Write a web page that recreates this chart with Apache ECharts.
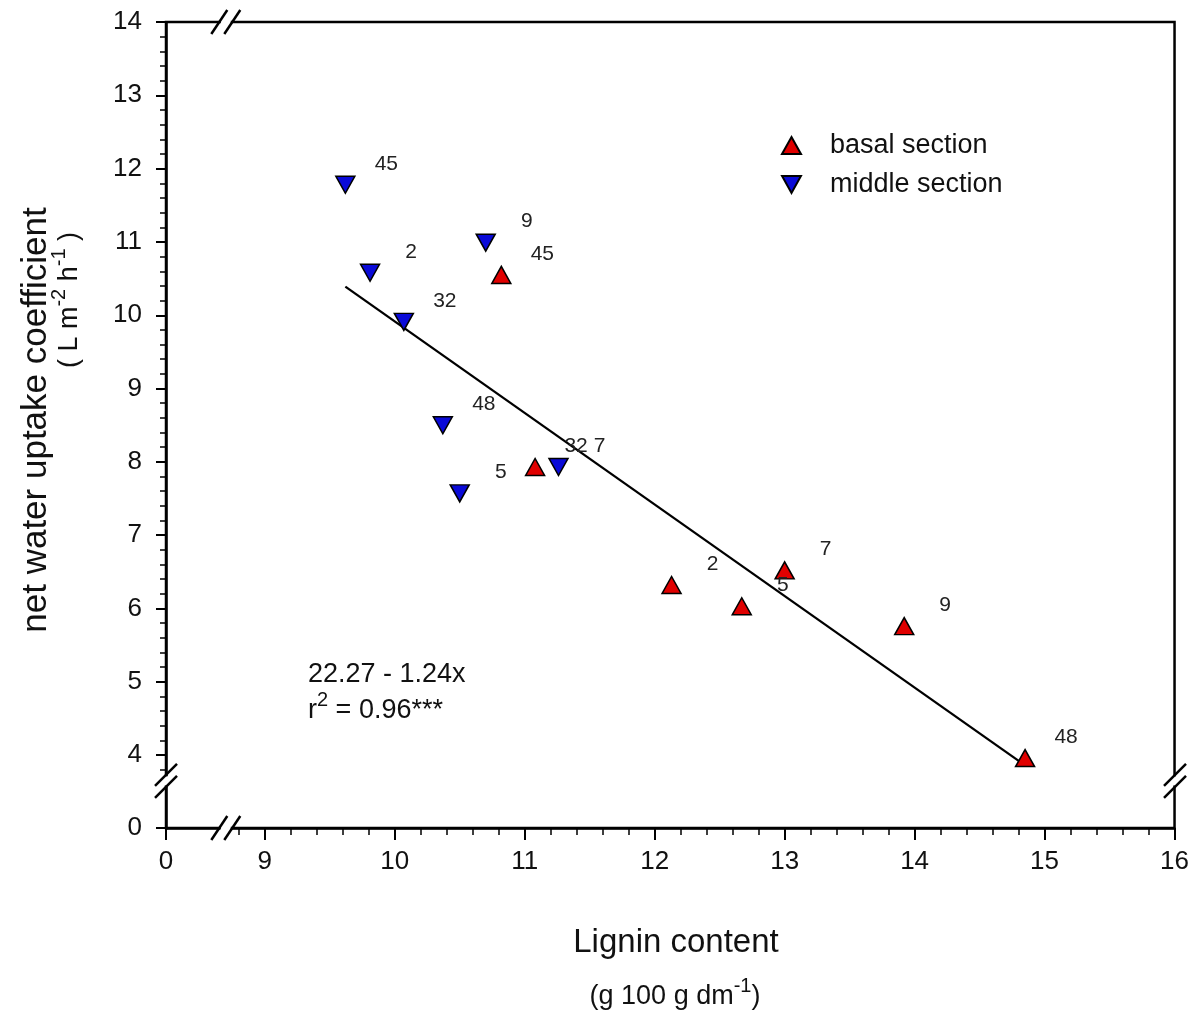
<!DOCTYPE html>
<html>
<head>
<meta charset="utf-8">
<script src="https://cdn.jsdelivr.net/npm/echarts@6/dist/echarts.min.js"></script>
<style>
html, body { margin: 0; padding: 0; background: #fff; }
#main { width: 1192px; height: 1019px; }
</style>
</head>
<body>
<div id="main"></div>
<script>
// lignin content (x) vs net water uptake coefficient (y), label = sampling point
var basalX = [10.82, 11.08, 12.13, 12.67, 13.00, 13.92, 14.85];
var basalY = [10.55, 7.93, 6.32, 6.03, 6.52, 5.76, 3.96];
var basalLabels = ['45', '32', '2', '5', '7', '9', '48'];

var middleX = [9.62, 9.81, 10.70, 10.07, 10.37, 10.50, 11.26];
var middleY = [11.78, 10.58, 10.99, 9.91, 8.50, 7.57, 7.93];
var middleLabels = ['45', '2', '9', '32', '48', '5', '7'];

// regression line ends (22.27 - 1.24x)
var fitX = [9.62, 14.85];
var fitY = [10.39, 3.86];

var xTicks = [0, 9, 10, 11, 12, 13, 14, 15, 16];
var yTicks = [0, 4, 5, 6, 7, 8, 9, 10, 11, 12, 13, 14];

var xBreak = { start: 0.41, end: 8.75, gap: 0.1 };
var yBreak = { start: 0.56, end: 3.73, gap: 0.164 };

var FONT = 'Liberation Sans, Arial, sans-serif';

// minor ticks every 0.2 between the major ticks after the break
function minorValues(ticks, lowest) {
    var out = [];
    for (var i = 1; i < ticks.length - 1; i++) {
        for (var k = 1; k < 5; k++) {
            var v = Math.round((ticks[i] + k * 0.2) * 10) / 10;
            if (v < ticks[ticks.length - 1]) out.push(v);
        }
    }
    out.push(lowest);
    return out;
}
var xMinor = minorValues(xTicks, 8.8);
var yMinor = minorValues(yTicks, 3.8);

var chart = echarts.init(document.getElementById('main'));

function pairs(xs, ys, labels) {
    var out = [];
    for (var i = 0; i < xs.length; i++) {
        out.push(labels ? [xs[i], ys[i], labels[i]] : [xs[i], ys[i]]);
    }
    return out;
}

var pointLabel = {
    show: true,
    position: 'inside',
    offset: [41, -21],
    fontSize: 21,
    color: '#222',
    fontFamily: FONT,
    formatter: function (p) { return p.data[2]; }
};

function xAxisBase() {
    return {
        type: 'value', min: 0, max: 16, interval: 1,
        breaks: [xBreak],
        breakArea: { show: false },
        splitLine: { show: false }
    };
}
function yAxisBase() {
    return {
        type: 'value', min: 0, max: 14, interval: 1,
        breaks: [yBreak],
        breakArea: { show: false },
        splitLine: { show: false }
    };
}

var xMain = xAxisBase();
xMain.axisLine = { lineStyle: { color: '#000', width: 2.5 } };
xMain.axisTick = { show: true, length: 12, customValues: xTicks, lineStyle: { color: '#000', width: 2 } };
xMain.axisLabel = { fontSize: 26, color: '#111', fontFamily: FONT, margin: 21, customValues: xTicks };

var xSub = xAxisBase();
xSub.axisLine = { show: false };
xSub.axisTick = { show: true, length: 7, customValues: xMinor, lineStyle: { color: '#000', width: 1.5 } };
xSub.axisLabel = { show: false };
xSub.position = 'bottom';

var yMain = yAxisBase();
yMain.axisLine = { lineStyle: { color: '#000', width: 2.5 } };
yMain.axisTick = { show: true, length: 10, customValues: yTicks, lineStyle: { color: '#000', width: 2 } };
yMain.axisLabel = { fontSize: 26, color: '#111', fontFamily: FONT, margin: 24, customValues: yTicks };

var ySub = yAxisBase();
ySub.axisLine = { show: false };
ySub.axisTick = { show: true, length: 6, customValues: yMinor, lineStyle: { color: '#000', width: 1.5 } };
ySub.axisLabel = { show: false };
ySub.position = 'left';

var option = {
    animation: false,
    backgroundColor: '#fff',
    grid: {
        left: 166, right: 17, top: 22, bottom: 191,
        show: true, borderColor: '#000', borderWidth: 2.5
    },
    legend: {
        left: 776, top: 127, orient: 'vertical',
        itemWidth: 19, itemHeight: 17, itemGap: 12,
        textStyle: { fontSize: 27, color: '#111', fontFamily: FONT, padding: [0, 0, 0, 24] },
        data: ['basal section', 'middle section']
    },
    xAxis: [xMain, xSub],
    yAxis: [yMain, ySub],
    series: [
        {
            name: 'fit', type: 'line',
            data: pairs(fitX, fitY),
            symbol: 'none',
            lineStyle: { color: '#000', width: 2.3 },
            z: 2
        },
        {
            name: 'basal section', type: 'scatter',
            data: pairs(basalX, basalY, basalLabels),
            symbol: 'triangle', symbolSize: [19, 17],
            itemStyle: { color: '#e00000', borderColor: '#000', borderWidth: 1.5, opacity: 1 },
            label: pointLabel,
            z: 3
        },
        {
            name: 'middle section', type: 'scatter',
            data: pairs(middleX, middleY, middleLabels),
            symbol: 'path://M0,0L20,0L10,18Z', symbolSize: [19, 17],
            itemStyle: { color: '#0a0ad8', borderColor: '#000', borderWidth: 1.5, opacity: 1 },
            label: pointLabel,
            z: 3
        }
    ]
};
chart.setOption(option);

// break marks "//" and axis titles
var gl = 166, gr = 1175, gt = 22, gb = 828;
var bx0 = chart.convertToPixel({ xAxisIndex: 0 }, xBreak.start);
var bx1 = chart.convertToPixel({ xAxisIndex: 0 }, xBreak.end);
var by0 = chart.convertToPixel({ yAxisIndex: 0 }, yBreak.start);
var by1 = chart.convertToPixel({ yAxisIndex: 0 }, yBreak.end);

function slash(cx, cy, dx, dy) {
    return {
        type: 'line', z: 100,
        shape: { x1: cx - dx, y1: cy + dy, x2: cx + dx, y2: cy - dy },
        style: { stroke: '#000', lineWidth: 2.5 }
    };
}
function blank(x, y, w, h) {
    return { type: 'rect', z: 99, shape: { x: x, y: y, width: w, height: h }, style: { fill: '#fff' } };
}

var g = [];
[gt, gb].forEach(function (yy) {
    g.push(blank(bx0 + 1.5, yy - 3, bx1 - bx0 - 3, 6));
    g.push(slash(bx0, yy, 8, 12));
    g.push(slash(bx1, yy, 8, 12));
});
[gl, gr].forEach(function (xx) {
    g.push(blank(xx - 3, by1 + 1.5, 6, by0 - by1 - 3));
    g.push(slash(xx, by0, 11, 11));
    g.push(slash(xx, by1, 11, 11));
});

// rich text with raised superscripts
var rich = {
    n: { fontSize: 27, verticalAlign: 'bottom', fontFamily: FONT, fill: '#111' },
    s: { fontSize: 20, verticalAlign: 'top', fontFamily: FONT, fill: '#111', padding: [0, 0, 14, 0] }
};

g.push({
    type: 'text', x: 36, y: 420, rotation: Math.PI / 2, z: 100,
    style: { text: 'net water uptake coefficient', fontSize: 35, fontFamily: FONT, fill: '#111', align: 'center', verticalAlign: 'middle' }
});
g.push({
    type: 'text', x: 66, y: 300, rotation: Math.PI / 2, z: 100,
    style: {
        text: '{n|( L m}{s|-2}{n| h}{s|-1}{n| )}',
        align: 'center', verticalAlign: 'middle', rich: rich
    }
});
g.push({
    type: 'text', x: 676, y: 943, z: 100,
    style: { text: 'Lignin content', fontSize: 33, fontFamily: FONT, fill: '#111', align: 'center', verticalAlign: 'middle' }
});
g.push({
    type: 'text', x: 675, y: 993, z: 100,
    style: {
        text: '{n|(g 100 g dm}{s|-1}{n|)}',
        align: 'center', verticalAlign: 'middle', rich: rich
    }
});
g.push({
    type: 'text', x: 308, y: 675, z: 100,
    style: { text: '22.27 - 1.24x', fontSize: 27, fontFamily: FONT, fill: '#111', align: 'left', verticalAlign: 'middle' }
});
g.push({
    type: 'text', x: 308, y: 707, z: 100,
    style: {
        text: '{n|r}{s|2}{n| = 0.96***}',
        align: 'left', verticalAlign: 'middle', rich: rich
    }
});

chart.setOption({ graphic: g });
</script>
</body>
</html>
